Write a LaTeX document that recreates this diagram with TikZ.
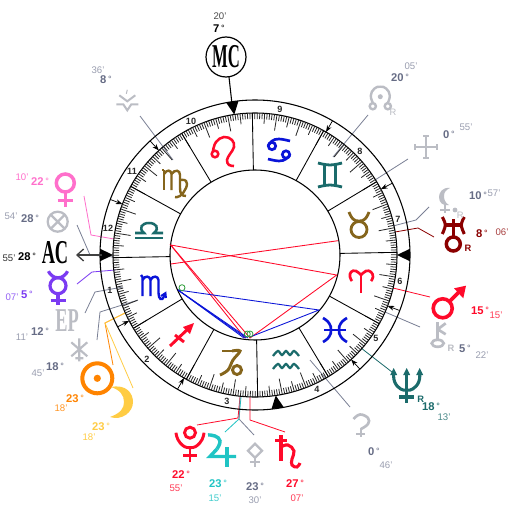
\documentclass[tikz,border=0pt]{standalone}
\usepackage{fontspec}
\setmainfont{Liberation Sans}
\newfontfamily\capfont{Liberation Serif}
\usetikzlibrary{arrows.meta}
\definecolor{cRed}{HTML}{FF0A2A}
\definecolor{cPink}{HTML}{FF6FCB}
\definecolor{cPurple}{HTML}{7B3BF2}
\definecolor{cOrange}{HTML}{FF8400}
\definecolor{cYellow}{HTML}{FFCC44}
\definecolor{cCyan}{HTML}{20C4C4}
\definecolor{cTeal}{HTML}{1B6B6B}
\definecolor{cDark}{HTML}{8B0000}
\definecolor{cGold}{HTML}{85651C}
\definecolor{cBlue}{HTML}{0A14D8}
\definecolor{cGlyph}{HTML}{BBBDC4}
\definecolor{cDeg}{HTML}{666C85}
\definecolor{cMin}{HTML}{9A9EB0}
\definecolor{cLine}{HTML}{7A8095}
\definecolor{cAsp}{HTML}{2E9E3A}
\newcommand\dgr[1]{#1\,\raisebox{.9pt}{\mdseries\fontsize{6.8}{7}\selectfont °}}
\newcommand\capsym[2]{\scalebox{#1}[1]{\capfont\bfseries\fontsize{25}{25}\selectfont #2}}
\tikzset{
  deg/.style={font=\bfseries\fontsize{8.4}{9}\selectfont,inner sep=0pt},
  mn/.style={font=\fontsize{7.2}{8}\selectfont,inner sep=0pt},
  hn/.style={font=\bfseries\fontsize{6.8}{8}\selectfont,inner sep=0pt,text=black!85},
  rr/.style={font=\bfseries\fontsize{7}{8}\selectfont,inner sep=0pt},
  conn/.style={line width=.6pt,line join=miter},
  aspect/.style={line width=.65pt},
  leo/.pic={\begin{scope}[cRed,line width=1.9pt]
    \draw (-8,2) circle[radius=3.3];
    \draw plot[smooth,tension=.7] coordinates {(-10,-1) (-7,-10) (1,-15) (9,-12) (11,-5) (7,2) (4,8) (6,13) (11,14)};
  \end{scope}},
  virgo/.pic={\begin{scope}[cGold,line width=1.8pt]
    \draw (-11,-12) -- (-11,8);
    \draw (-13,-12) -- (-11,-12);
    \draw (-11,-8) .. controls (-8,-13) and (-4,-12) .. (-3.5,-8) -- (-3.5,8);
    \draw (-3.5,-8) .. controls (0,-13) and (5,-12) .. (5,-7) -- (5,6) .. controls (5,12) and (7,14) .. (11,14);
    \draw plot[smooth,tension=.8] coordinates {(5,-2) (11,-1) (11,6) (5,14) (0,15)};
  \end{scope}},
  libra/.pic={\begin{scope}[cTeal,line width=1.9pt]
    \draw (-14,8) -- (14,8);
    \draw (-14,3) -- (-5,3) .. controls (-11,-2) and (-7,-7) .. (0,-7) .. controls (7,-7) and (11,-2) .. (5,3) -- (14,3);
  \end{scope}},
  scorpio/.pic={\begin{scope}[cBlue,line width=1.8pt]
    \draw (-11,-13) -- (-9.5,-11) -- (-9.5,8);
    \draw (-9.5,-8) .. controls (-7,-13) and (-2,-12) .. (-1.5,-8) -- (-1.5,8);
    \draw (-1.5,-8) .. controls (1,-13) and (6,-12) .. (6.5,-8) -- (6.5,5) .. controls (6.5,11) and (10,14) .. (12,8) -- (13,6);
    \draw[line width=1.4pt] (9,8) -- (13.5,5) -- (14,10);
  \end{scope}},
  sagit/.pic={\begin{scope}[cRed,line width=2.2pt]
    \draw (-12,11) -- (8,-8);
    \draw (-7,0) -- (2,7);
    \fill (12,-12) -- (1,-8) -- (8,-1) -- cycle;
  \end{scope}},
  capri/.pic={\begin{scope}[cGold,line width=2.2pt]
    \draw (-8,-12) -- (3,-12);
    \draw plot[smooth,tension=.6] coordinates {(2,-12) (10,-12) (3,-3) (-2,7) (-10,12)};
    \draw (7,7) circle[radius=4.5];
  \end{scope}},
  aquar/.pic={\begin{scope}[cTeal,line width=1.7pt]
    \draw plot[smooth,tension=.6] coordinates {(-13,-4) (-8,-9) (-4,-5) (0,-9) (4,-5) (8,-9) (13,-4)};
    \draw plot[smooth,tension=.6] coordinates {(-13,9) (-8,4) (-4,8) (0,4) (4,8) (8,4) (13,9)};
  \end{scope}},
  pisces/.pic={\begin{scope}[cBlue,line width=2pt]
    \draw plot[smooth,tension=.8] coordinates {(-12,-12) (-6,-7) (-4,0) (-6,7) (-12,12)};
    \draw plot[smooth,tension=.8] coordinates {(12,-12) (6,-7) (4,0) (6,7) (12,12)};
    \draw[line width=1.8pt] (-11,0) -- (11,0);
  \end{scope}},
  aries/.pic={\begin{scope}[cRed,line width=2pt]
    \draw (0,13) -- (0,-6);
    \draw plot[smooth,tension=.8] coordinates {(0,-5) (-5,-9) (-10,-8) (-11,-3) (-9,1)};
    \draw plot[smooth,tension=.8] coordinates {(0,-5) (5,-9) (10,-8) (12,-3) (10,1)};
  \end{scope}},
  taurus/.pic={\begin{scope}[cGold,line width=2.1pt]
    \draw (0,4.5) circle[radius=8];
    \draw plot[smooth,tension=.8] coordinates {(-10,-13) (-6,-6) (0,-4) (6,-6) (10,-13)};
  \end{scope}},
  gemini/.pic={\begin{scope}[cTeal,line width=2.1pt]
    \draw (-5.5,-11) -- (-5.5,11);
    \draw (5.5,-11) -- (5.5,11);
    \draw plot[smooth,tension=.7] coordinates {(-12,-12) (0,-10) (12,-12)};
    \draw plot[smooth,tension=.7] coordinates {(-12,12) (0,10) (12,12)};
  \end{scope}},
  cancer/.pic={\begin{scope}[cBlue,line width=2pt]
    \draw (-7,-4) circle[radius=3.7];
    \draw (7,4.5) circle[radius=3.7];
    \draw plot[smooth,tension=.7] coordinates {(-11,-4) (-7,-9) (0,-11) (11,-9)};
    \draw plot[smooth,tension=.7] coordinates {(11,5) (7,9) (0,11) (-11,9)};
  \end{scope}},
  venus/.pic={\begin{scope}[cPink,line width=2.6pt]
    \draw (0,0) circle[radius=9];
    \draw (0,9) -- (0,24);
    \draw (-7.5,17.5) -- (7.5,17.5);
  \end{scope}},
  mercury/.pic={\begin{scope}[cPurple,line width=2.4pt]
    \draw (0,0) circle[radius=8];
    \draw (0,8) -- (0,19);
    \draw (-7.5,14.5) -- (7.5,14.5);
    \draw plot[smooth,tension=.9] coordinates {(-9.5,-14.5) (-6,-10) (0,-8) (6,-10) (9.5,-14.5)};
  \end{scope}},
  fortune/.pic={\begin{scope}[cGlyph,line width=1.7pt]
    \draw (0,0) circle[radius=10];
    \draw (-7,-7) -- (7,7) (-7,7) -- (7,-7);
  \end{scope}},
  aster/.pic={\begin{scope}[cGlyph,line width=1.6pt]
    \draw (0,-11) -- (0,12) (-8,-7) -- (8,7) (-8,7) -- (8,-7) (-4,9) -- (4,9);
  \end{scope}},
  sun/.pic={\begin{scope}[cOrange]
    \draw[line width=3pt] (0,0) circle[radius=15];
    \fill (0,0) circle[radius=3.6];
  \end{scope}},
  pluto/.pic={\begin{scope}[cRed,line width=2.2pt]
    \draw (0,0) circle[radius=5.5];
    \draw plot[smooth,tension=.9] coordinates {(-14,0) (-10,10) (0,15) (10,10) (14,0)};
    \draw (0,15) -- (0,29) (-7,22.5) -- (7,22.5);
  \end{scope}},
  jupiter/.pic={\begin{scope}[cCyan,line width=2.6pt]
    \draw plot[smooth,tension=.8] coordinates {(-14,-12) (-7,-11) (-2,-6) (-5,2)};
    \draw (-5,2) -- (-12,9.5) -- (14,9.5);
    \draw (5,0) -- (5,20);
  \end{scope}},
  ceres/.pic={\begin{scope}[cGlyph,line width=1.8pt]
    \draw (0,-7) -- (7,0) -- (0,7) -- (-7,0) -- cycle;
    \draw (0,7) -- (0,16) (-5,11) -- (5,11);
  \end{scope}},
  saturn/.pic={\begin{scope}[cRed,line width=2.3pt]
    \draw (0,-15) -- (0,11) (-6,-9.5) -- (6,-9.5);
    \draw plot[smooth,tension=.7] coordinates {(0,-3) (7,-5) (13,1) (11,9) (11,15) (16,17) (19,13)};
  \end{scope}},
  uranus/.pic={\begin{scope}[cDark,line width=2.3pt]
    \draw plot[smooth,tension=.6] coordinates {(-11,-8) (-8,0) (-11,9)};
    \draw plot[smooth,tension=.6] coordinates {(11,-8) (8,0) (11,9)};
    \draw (-8,0) -- (8,0) (0,-6) -- (0,12);
    \draw[line width=2.6pt] (0,19) circle[radius=7];
  \end{scope}},
  lilith/.pic={\begin{scope}[cGlyph]
    \fill (5,-10) .. controls (-3,-11) and (-6,-5) .. (-6,-1) .. controls (-6,5) and (-2,8) .. (4,7) .. controls (0,5) and (-1,1) .. (-1,-2) .. controls (-1,-6) and (1,-8) .. (5,-10);
    \draw[line width=1.8pt] (0,6) -- (0,15) (-5,12) -- (5,12);
    \fill (10,12) circle[radius=2.4];
  \end{scope}},
  cross/.pic={\begin{scope}[cGlyph,line width=1.7pt]
    \draw (0,-11) -- (0,11) (-11,0) -- (11,0);
    \draw (-3,-11) -- (3,-11) (-3,11) -- (3,11) (-11,-3) -- (-11,3) (11,-3) -- (11,3);
  \end{scope}},
  nodeg/.pic={\begin{scope}[cGlyph,line width=1.8pt]
    \fill (0,0) circle[radius=2.5];
    \draw plot[smooth,tension=.8] coordinates {(-7,7) (-9.5,-1) (-6,-8) (0,-10) (6,-8) (9.5,-1) (7,7)};
    \draw (-7.5,9.5) circle[radius=3.1] (7.5,9.5) circle[radius=3.1];
  \end{scope}},
  mars/.pic={\begin{scope}[cRed,line width=2.7pt]
    \draw (0,0) circle[radius=9.5];
    \draw (7,-7) -- (17,-17);
    \fill (23.3,-22.6) -- (11.3,-20) -- (20.6,-10) -- cycle;
  \end{scope}},
  chiron/.pic={\begin{scope}[cGlyph,line width=2pt]
    \draw (0,0) ellipse[x radius=6,y radius=3.5];
    \draw (0,-4) -- (0,-21);
    \draw (0,-14) -- (8,-20) (0,-14) -- (8,-9);
  \end{scope}},
  neptune/.pic={\begin{scope}[cTeal,line width=2.3pt]
    \draw (0,-14) -- (0,16) (-7.5,10) -- (7.5,10);
    \draw plot[smooth,tension=.8] coordinates {(-13,-14) (-12,-5) (-6,2) (0,3) (6,2) (12,-5) (13,-14)};
    \fill (-13,-19) -- (-16.5,-12) -- (-9.5,-12) -- cycle;
    \fill (0,-19) -- (-3.5,-12) -- (3.5,-12) -- cycle;
    \fill (13,-19) -- (9.5,-12) -- (16.5,-12) -- cycle;
  \end{scope}},
  pallas/.pic={\begin{scope}[cGlyph,line width=2pt]
    \draw plot[smooth,tension=.7] coordinates {(-7.5,-6) (-1,-10.5) (7,-7) (7,-1) (0,4)};
    \draw (0,3) -- (0,12) (-5,9) -- (4,9);
  \end{scope}},
  chevron/.pic={\begin{scope}[cGlyph,line width=1.5pt]
    \draw (-8,-8) -- (0,-2) -- (8,-8);
    \draw (-11,1) -- (-4,1) -- (0,7) -- (4,1) -- (11,1);
    \draw[line width=.8pt] (0,-13.5) -- (-1,-9.5);
  \end{scope}}
}
\begin{document}
\begin{tikzpicture}[x=.75pt,y=-.75pt]
\useasboundingbox (0,0) rectangle (510,510);
\fill[white] (0,0) rectangle (510,510);
% connectors (under the wheel)
\draw[conn,cLine] (140,116) -- (173,160);
\draw[conn,cPink] (84,196) -- (91,235) -- (114,239);
\draw[conn,cLine] (77,225) -- (90,255) -- (113,257);
\draw[conn,cPurple] (77,284) -- (92,272) -- (115,270);
\draw[conn,cLine] (85,313) -- (95,292) -- (123,287);
\draw[conn,cLine] (97,340) -- (100,312) -- (138,300);
\draw[conn,cOrange] (113,365) -- (105,323) -- (125,313);
\draw[conn,cYellow] (133,388) -- (105,323) -- (125,313);
\draw[conn,cRed] (197,425) -- (238,418) -- (240,397);
\draw[conn,cCyan] (225,432) -- (239,419) -- (241,397);
\draw[conn,cLine] (254,435) -- (239,419) -- (240,397);
\draw[conn,cRed] (285,432) -- (250,420) -- (250,397);
\draw[conn,cTeal] (392,372) -- (361,348);
\draw[conn,cLine] (350,407) -- (310,360);
\draw[conn,cLine] (420,327) -- (385,312);
\draw[conn,cRed] (430,297) -- (393,288);
\draw[conn,cDark] (434,237) -- (418,228) -- (395,232);
\draw[conn,cLine] (429,207) -- (416,220) -- (393,226);
\draw[conn,cLine] (408,159) -- (375,180);
\draw[conn,cLine] (368,115) -- (333,157);
% wheel
\draw[line width=.8pt] (255,255) circle[radius=155];
\draw[line width=.8pt] (255,255) circle[radius=142];
\draw[line width=.8pt] (255,255) circle[radius=85];
\foreach \d in {0,...,359}{
  \pgfmathsetmacro\ang{\d-28.92}
  \pgfmathsetmacro\re{mod(\d,10)==0?126:(mod(\d,5)==0?131.5:136)}
  \draw[line width=.6pt,black!85] ({255+142*cos(\ang)},{255-142*sin(\ang)}) -- ({255+\re*cos(\ang)},{255-\re*sin(\ang)});
}
\foreach \d in {0,30,...,330}{
  \pgfmathsetmacro\ang{\d-28.92}
  \draw[line width=.65pt] ({255+142*cos(\ang)},{255-142*sin(\ang)}) -- ({255+85*cos(\ang)},{255-85*sin(\ang)});
}
% house cusps
\foreach \a in {207.6,240,312.6,339,27.6,60,132.6,159}{
  \draw[line width=.55pt,-{Stealth[length=5pt,width=3.6pt]}] ({255+155*cos(\a)},{255-155*sin(\a)}) -- ({255+142*cos(\a)},{255-142*sin(\a)});
}
\foreach \a in {0,98.4,180,278.4}{
  \fill[black] ({255+142*cos(\a)},{255-142*sin(\a)}) -- ({255+155*cos(\a+2.3)},{255-155*sin(\a+2.3)}) -- ({255+155*cos(\a-2.3)},{255-155*sin(\a-2.3)}) -- cycle;
}
% aspects
\draw[aspect,cRed] (170.7,245) -- (336.7,275) -- (250,338) -- cycle;
\draw[aspect,cRed] (170.7,245) -- (245,338);
\draw[aspect,cRed] (170.7,264) -- (338,240.7);
\draw[aspect,cBlue] (178,290) -- (319,310) -- (250,337);
\draw[aspect,cBlue] (178,290) -- (244,338);
\draw[aspect,cBlue] (178,290) -- (246,338);
\draw[aspect,cBlue] (178,290) -- (248,338);
\draw[line width=.6pt,cAsp] (182,287.7) circle[radius=3];
\draw[line width=.6pt,cAsp] (247.3,334) circle[radius=3];
\draw[line width=.6pt,cAsp] (250,334) circle[radius=3];
% zodiac
\pic at (223,152) {leo};
\pic at (175,182) {virgo};
\pic at (149,230) {libra};
\pic at (152,288) {scorpio};
\pic at (182,335) {sagit};
\pic at (230,363) {capri};
\pic at (286,360) {aquar};
\pic at (335,330) {pisces};
\pic at (361,280) {aries};
\pic at (359,225) {taurus};
\pic at (330,175) {gemini};
\pic at (279,150) {cancer};
% house numbers
\node[hn] (h12) at (108,228) {12};
\node[hn] (h11) at (132,171) {11};
\node[hn] (h10) at (191,121) {10};
\node[hn] (h9) at (280,109) {9};
\node[hn] (h8) at (360,151) {8};
\node[hn] (h7) at (398,219) {7};
\node[hn] (h6) at (400,281) {6};
\node[hn] (h5) at (376,338) {5};
\node[hn] (h4) at (317,389) {4};
\node[hn] (h3) at (227,401) {3};
\node[hn] (h2) at (147,359) {2};
\node[hn] (h1) at (110,290) {1};
% angles
\draw[line width=.9pt] (226,57) circle[radius=20];
\node[inner sep=0pt] (mc) at (226,57) {\capsym{.5}{MC}};
\draw[line width=.8pt] (229,77) -- (232,104);
\node[deg] (mcd) at (219,29) {\dgr{7}};
\node[mn,black!70] (mcm) at (220,16) {20'};
\node[inner sep=0pt] (ac) at (55,253) {\capsym{.55}{AC}};
\draw[line width=1pt,black!75,{Straight Barb[length=5pt,width=9pt]}-] (76,255) -- (102,255);
\node[deg] (acd) at (27,257) {\dgr{28}};
\node[mn,black!80] (acm) at (9,258) {55'};
% planets
\pic at (127.3,103.3) {chevron};
\node[deg,cDeg] (a1) at (106,80) {\dgr{8}};
\node[mn,cMin] (b1) at (98,70) {36'};
\pic at (65.3,183) {venus};
\node[deg,cPink] (a2) at (40,182) {\dgr{22}};
\node[mn,cPink] (b2) at (22,177) {10'};
\pic at (57.7,221.7) {fortune};
\node[deg,cDeg] (a3) at (30,219) {\dgr{28}};
\node[mn,cMin] (b3) at (11,216) {54'};
\pic at (58,285.7) {mercury};
\node[deg,cPurple] (a4) at (27,295) {\dgr{5}};
\node[mn,cPurple!80] (b4) at (12,297) {07'};
\node[inner sep=0pt,cGlyph] (ep) at (67,321) {\capsym{.55}{EP}};
\node[deg,cDeg] (a5) at (40,332) {\dgr{12}};
\node[mn,cMin] (b5) at (22,337) {11'};
\pic at (79.3,349.3) {aster};
\node[deg,cDeg] (a6) at (55,367) {\dgr{18}};
\node[mn,cMin] (b6) at (38,373) {45'};
\pic at (97.3,378.3) {sun};
\node[deg,cOrange] (a7) at (75,399) {\dgr{23}};
\node[mn,cOrange!85] (b7) at (61,408) {18'};
\fill[cYellow] (111,387) .. controls (126,384) and (133,393) .. (133,402) .. controls (133,412) and (122,421) .. (110,417) .. controls (121,413) and (124,408) .. (124,402) .. controls (124,395) and (120,390) .. (111,387);
\node[deg,cYellow] (a8) at (101,427) {\dgr{23}};
\node[mn,cYellow] (b8) at (89,437) {18'};
\pic at (190,432.7) {pluto};
\node[deg,cRed] (a9) at (181,475) {\dgr{22}};
\node[mn,cRed!80] (b9) at (176,488) {55'};
\pic at (222,447) {jupiter};
\node[deg,cCyan] (a10) at (218,484) {\dgr{23}};
\node[mn,cCyan!85] (b10) at (215,498) {15'};
\pic at (255,450.7) {ceres};
\node[deg,cDeg] (a11) at (255,487) {\dgr{23}};
\node[mn,cMin] (b11) at (255,500) {30'};
\pic at (281,450) {saturn};
\node[deg,cRed] (a12) at (295,484) {\dgr{27}};
\node[mn,cRed!80] (b12) at (297,498) {07'};
\pic at (361,425) {pallas};
\node[deg,cDeg] (a13) at (374,452) {\dgr{0}};
\node[mn,cMin] (b13) at (386,465) {46'};
\pic at (406.7,387) {neptune};
\node[rr,cTeal] (r1) at (420.7,399) {R};
\node[deg,cTeal] (a14) at (431,407) {\dgr{18}};
\node[mn,cTeal!80] (b14) at (444,417) {13'};
\pic at (437.7,343.3) {chiron};
\node[rr,cGlyph] (r2) at (451,348) {R};
\node[deg,cDeg] (a15) at (465,349) {\dgr{5}};
\node[mn,cMin] (b15) at (482,355) {22'};
\pic at (442.7,308.3) {mars};
\node[deg,cRed] (a16) at (480,311) {\dgr{15}};
\node[mn,cRed!80] (b16) at (496,315) {15'};
\pic at (453.3,225) {uranus};
\node[rr,cDark] (r3) at (468,248) {R};
\node[deg,cDark] (a17) at (482,234) {\dgr{8}};
\node[mn,cDark!75] (b17) at (502,232) {06'};
\pic at (445,198) {lilith};
\node[rr,cGlyph,font=\fontsize{7}{8}\selectfont] (r4) at (460.3,215) {R};
\node[deg,cDeg] (a18) at (478,196) {\dgr{10}};
\node[mn,cMin] (b18) at (494,193) {57'};
\pic at (426,147) {cross};
\node[deg,cDeg] (a19) at (449,135) {\dgr{0}};
\node[mn,cMin] (b19) at (466,127) {55'};
\pic at (380.3,96.7) {nodeg};
\node[rr,cGlyph,font=\fontsize{7}{8}\selectfont] (r5) at (393,112) {R};
\node[deg,cDeg] (a20) at (400,78) {\dgr{20}};
\node[mn,cMin] (b20) at (411,66) {05'};
\end{tikzpicture}
\end{document}
